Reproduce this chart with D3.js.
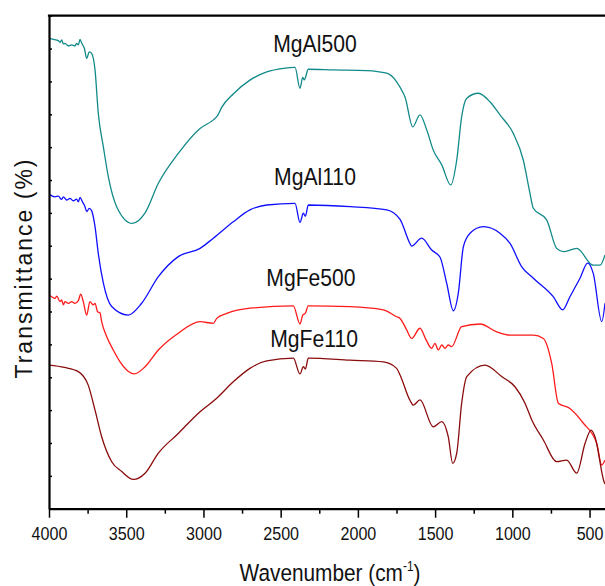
<!DOCTYPE html>
<html>
<head>
<meta charset="utf-8">
<script src="https://cdn.jsdelivr.net/npm/d3@7"></script>
<style>
    body { margin: 0; background: #fff; }
    svg { display: block; }
</style>
</head>
<body>
<script>
// FTIR spectra, wavenumber (cm-1) vs transmittance (arbitrary offset units)
const wavenumberTicks = [4000, 3500, 3000, 2500, 2000, 1500, 1000, 500];
const wavenumberMinor = [3750, 3250, 2750, 2250, 1750, 1250, 750];
const transmittanceTicks = d3.range(0, 16);
const sampleNames = ["MgAl500", "MgAl110", "MgFe500", "MgFe110"];

const mgAl500 = [
    [4000, 14.31], [3972, 14.28], [3940, 14.24], [3929, 14.19], [3918, 14.26], [3907, 14.14],
    [3896, 14.16], [3875, 14.08], [3853, 14.11], [3832, 14.08], [3821, 14.16], [3810, 14.11],
    [3799, 14.28], [3788, 14.16], [3771, 14.01], [3756, 13.70], [3739, 13.90], [3724, 13.85],
    [3702, 13.35], [3681, 12.04], [3648, 11.01], [3616, 10.10], [3562, 9.19], [3461, 8.68],
    [3378, 9.00], [3292, 9.90], [3163, 10.81], [3022, 11.57], [2936, 11.83], [2910, 11.95],
    [2882, 12.21], [2807, 12.62], [2699, 13.04], [2590, 13.29], [2483, 13.40], [2407, 13.43],
    [2375, 12.79], [2357, 13.12], [2347, 13.05], [2321, 13.37], [2159, 13.35], [1943, 13.33],
    [1813, 13.25], [1749, 12.99], [1706, 12.64], [1695, 12.53], [1645, 11.62], [1598, 11.98],
    [1554, 11.52], [1512, 10.91], [1457, 10.46], [1399, 9.85], [1360, 10.61], [1328, 11.93],
    [1295, 12.49], [1220, 12.64], [1145, 12.38], [1080, 11.98], [994, 11.42], [929, 10.61],
    [886, 9.60], [864, 9.14], [777, 8.78], [713, 7.92], [670, 7.82], [583, 7.92], [476, 7.41],
    [432, 7.41], [400, 7.72]
];

const mgAl110 = [
    [4000, 9.57], [3961, 9.49], [3940, 9.51], [3918, 9.41], [3907, 9.49], [3885, 9.39],
    [3864, 9.44], [3843, 9.37], [3821, 9.42], [3810, 9.34], [3799, 9.47], [3784, 9.34],
    [3767, 9.19], [3756, 9.04], [3739, 9.14], [3724, 9.07], [3702, 8.58], [3681, 7.77],
    [3648, 6.86], [3594, 6.15], [3487, 5.89], [3400, 6.25], [3292, 7.06], [3163, 7.67],
    [3022, 7.92], [2936, 8.23], [2807, 8.73], [2699, 9.09], [2590, 9.24], [2407, 9.29],
    [2375, 8.71], [2353, 8.99], [2340, 8.90], [2321, 9.24], [2050, 9.19], [1813, 9.09],
    [1727, 8.80], [1663, 8.07], [1652, 7.99], [1587, 8.23], [1522, 7.87], [1468, 7.65],
    [1425, 6.86], [1382, 6.02], [1350, 6.55], [1317, 7.97], [1274, 8.38], [1188, 8.58],
    [1080, 8.38], [1015, 8.07], [939, 7.36], [864, 7.01], [735, 6.45], [674, 6.05],
    [627, 6.45], [562, 7.01], [512, 7.47], [476, 7.16], [421, 5.69], [400, 6.25]
];

const mgFe500 = [
    [4000, 6.50], [3983, 6.45], [3961, 6.40], [3950, 6.47], [3929, 6.30], [3918, 6.35],
    [3907, 6.20], [3896, 6.30], [3875, 6.25], [3853, 6.30], [3832, 6.25], [3810, 6.33],
    [3795, 6.53], [3778, 6.30], [3756, 5.89], [3735, 6.30], [3713, 6.20], [3702, 6.25],
    [3685, 5.99], [3670, 5.96], [3659, 5.69], [3626, 5.23], [3584, 4.83], [3540, 4.47],
    [3497, 4.22], [3448, 4.10], [3378, 4.32], [3292, 4.83], [3163, 5.34], [3022, 5.69],
    [2936, 5.64], [2914, 5.79], [2849, 5.94], [2699, 6.10], [2418, 6.17], [2375, 5.62],
    [2357, 5.89], [2340, 5.95], [2321, 6.17], [2051, 6.15], [1835, 6.05], [1749, 5.84],
    [1727, 5.79], [1684, 5.44], [1652, 5.18], [1598, 5.49], [1560, 5.15], [1522, 4.88],
    [1501, 5.03], [1479, 4.83], [1457, 4.98], [1436, 4.88], [1415, 4.98], [1393, 4.93],
    [1328, 5.54], [1209, 5.62], [1101, 5.38], [1015, 5.28], [864, 5.28], [799, 5.18],
    [745, 4.42], [702, 3.21], [627, 3.05], [540, 2.60], [454, 1.99], [421, 1.33], [400, 1.48]
];

const mgFe110 = [
    [4000, 4.37], [3900, 4.30], [3810, 4.17], [3746, 3.76], [3702, 3.00], [3659, 2.19],
    [3594, 1.43], [3529, 1.13], [3454, 0.89], [3378, 1.08], [3292, 1.69], [3163, 2.29],
    [3022, 2.95], [2914, 3.36], [2807, 3.86], [2699, 4.27], [2590, 4.50], [2418, 4.58],
    [2375, 4.10], [2353, 4.32], [2340, 4.25], [2321, 4.58], [2051, 4.52], [1835, 4.47],
    [1749, 4.27], [1727, 4.07], [1663, 3.30], [1641, 3.15], [1598, 3.31], [1512, 2.49],
    [1457, 2.65], [1415, 2.19], [1386, 1.38], [1360, 1.69], [1328, 3.21], [1295, 4.02],
    [1177, 4.37], [1069, 4.02], [983, 3.71], [918, 3.21], [874, 2.70], [799, 2.09],
    [713, 1.43], [648, 1.48], [583, 1.08], [529, 1.99], [490, 2.39], [465, 2.19],
    [406, 0.82], [400, 0.75]
];

window.onload = function () {
    spectra();
}

function spectra() {
    const width = 605;
    const height = 586;
    const margin = ({top: 15.7, right: 0, bottom: 77.3, left: 49});
    const font = "'Liberation Sans', Arial, sans-serif";

    const series = [
        {name: sampleNames[0], values: mgAl500, color: "#138a8a", label: [2278, 13.89]},
        {name: sampleNames[1], values: mgAl110, color: "#1010ff", label: [2278, 9.85]},
        {name: sampleNames[2], values: mgFe500, color: "#ff1a1a", label: [2304, 6.78]},
        {name: sampleNames[3], values: mgFe110, color: "#8a0c0c", label: [2284, 4.93]}
    ];

    const x = d3.scaleLinear()
        .domain([4000, 400])
        .range([margin.left, width - margin.right]);

    const y = d3.scaleLinear()
        .domain([0, 15])
        .range([height - margin.bottom, margin.top]);

    const svg = d3.select("body")
        .append("svg")
        .attr("width", width)
        .attr("height", height)
        .attr("viewBox", [0, 0, width, height]);

    svg.append("clipPath")
        .attr("id", "plot")
        .append("rect")
        .attr("x", margin.left)
        .attr("y", margin.top)
        .attr("width", width - margin.left - margin.right)
        .attr("height", height - margin.top - margin.bottom);

    const line = d3.line()
        .curve(d3.curveMonotoneX)
        .x(d => x(d[0]))
        .y(d => y(d[1]));

    svg.append("g")
        .attr("clip-path", "url(#plot)")
        .selectAll("path")
        .data(series)
        .join("path")
        .attr("fill", "none")
        .attr("stroke", d => d.color)
        .attr("stroke-width", 1.3)
        .attr("stroke-linejoin", "round")
        .attr("d", d => line(d.values));

    // minor x ticks
    svg.append("g")
        .attr("transform", `translate(0,${y(0)})`)
        .call(d3.axisBottom(x).tickValues(wavenumberMinor).tickSize(5).tickFormat(""))
        .call(g => g.select(".domain").remove())
        .call(g => g.selectAll(".tick line").attr("stroke", "#000").attr("stroke-width", 1.5));

    // the original font is condensed, so squeeze the glyphs horizontally
    svg.append("g")
        .attr("transform", `translate(0,${y(0)})`)
        .call(d3.axisBottom(x).tickValues(wavenumberTicks).tickSize(9).tickSizeOuter(0)
            .tickPadding(9).tickFormat(d3.format("d")))
        .call(g => g.select(".domain").attr("stroke", "#000").attr("stroke-width", 2.2))
        .call(g => g.selectAll(".tick line").attr("stroke", "#000").attr("stroke-width", 1.5))
        .call(g => g.selectAll(".tick text")
            .attr("fill", "#111")
            .attr("transform", "scale(0.87,1)")
            .style("font-family", font)
            .style("font-size", "18.5px"));

    svg.append("g")
        .attr("transform", `translate(${x(4000)},0)`)
        .call(d3.axisLeft(y).tickValues(transmittanceTicks).tickSize(-3).tickSizeOuter(0).tickFormat(""))
        .call(g => g.select(".domain").attr("stroke", "#000").attr("stroke-width", 2.2))
        .call(g => g.selectAll(".tick line").attr("stroke", "#000").attr("stroke-width", 1.5));

    // top frame line
    svg.append("line")
        .attr("x1", x(4000) - 1.1)
        .attr("x2", width)
        .attr("y1", y(15))
        .attr("y2", y(15))
        .attr("stroke", "#000")
        .attr("stroke-width", 2.2);

    svg.append("g")
        .style("font-family", font)
        .style("font-size", "23px")
        .attr("fill", "#111")
        .attr("text-anchor", "middle")
        .selectAll("text")
        .data(series)
        .join("text")
        .attr("transform", d => `translate(${x(d.label[0])},${y(d.label[1])}) scale(0.92,1)`)
        .text(d => d.name);

    const xTitle = svg.append("text")
        .attr("transform", "translate(330,581) scale(0.85,1)")
        .attr("text-anchor", "middle")
        .attr("fill", "#111")
        .style("font-family", font)
        .style("font-size", "24.5px");
    xTitle.append("tspan").text("Wavenumber (cm");
    xTitle.append("tspan").attr("dy", -10).style("font-size", "14px").text("-1");
    xTitle.append("tspan").attr("dy", 10).text(")");

    svg.append("text")
        .attr("transform", `translate(32,${268}) rotate(-90)`)
        .attr("text-anchor", "middle")
        .attr("fill", "#111")
        .style("font-family", font)
        .style("font-size", "23px")
        .style("letter-spacing", "2px")
        .text("Transmittance (%)");
}
</script>
</body>
</html>
